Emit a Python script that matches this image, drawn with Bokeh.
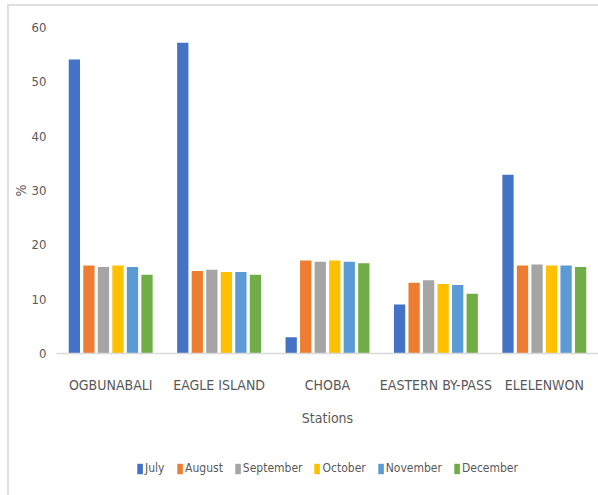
from bokeh.plotting import figure
from bokeh.layouts import column
from bokeh.models import (FactorRange, Range1d, Legend, LegendItem, FixedTicker,
                          ColumnDataSource)
from bokeh.transform import dodge
from bokeh.embed import file_html
from bokeh.resources import INLINE

# Monthly percentages per sampling station
stations = ["OGBUNABALI", "EAGLE ISLAND", "CHOBA", "EASTERN BY-PASS", "ELELENWON"]
months = ["July", "August", "September", "October", "November", "December"]
july = [54.1, 57.2, 3.0, 9.0, 32.9]
august = [16.2, 15.2, 17.1, 13.0, 16.2]
september = [15.9, 15.4, 16.9, 13.5, 16.4]
october = [16.2, 15.0, 17.1, 12.8, 16.2]
november = [15.9, 15.0, 16.9, 12.6, 16.2]
december = [14.5, 14.5, 16.6, 11.0, 15.9]
y_ticks = [0, 10, 20, 30, 40, 50, 60]

series = [july, august, september, october, november, december]
colors = ["#4472C4", "#ED7D31", "#A5A5A5", "#FFC000", "#5B9BD5", "#70AD47"]

FONT = "Liberation Sans Narrow, DejaVu Sans Condensed, Roboto"
TEXT = "#595959"

src = ColumnDataSource(dict(station=stations, **{m: v for m, v in zip(months, series)}))
step = 0.134
width = 0.104

p = figure(
    x_range=FactorRange(factors=stations, range_padding=0),
    y_range=Range1d(0, 60),
    width=589, height=435,
    output_backend="svg", toolbar_location=None,
    min_border_left=46, min_border_right=0, min_border_top=21, min_border_bottom=88,
    outline_line_color=None,
)

for i, (m, c) in enumerate(zip(months, colors)):
    p.vbar(x=dodge("station", (i - 2.5) * step, range=p.x_range), top=m, width=width,
           source=src, fill_color=c, line_color=None)

p.xgrid.grid_line_color = None
p.ygrid.grid_line_color = None

p.yaxis.ticker = FixedTicker(ticks=y_ticks)
p.yaxis.axis_line_color = None
p.yaxis.major_tick_line_color = None
p.yaxis.minor_tick_line_color = None
p.yaxis.major_label_standoff = 4
p.yaxis.axis_label = "%"
p.yaxis.axis_label_standoff = 0

p.xaxis.axis_line_color = "#d9d9d9"
p.xaxis.axis_line_width = 1.5
p.xaxis.major_tick_line_color = None
p.xaxis.minor_tick_line_color = None
p.xaxis.major_label_standoff = 17
p.xaxis.axis_label = "Stations"
p.xaxis.axis_label_standoff = 14

for ax in (p.xaxis[0], p.yaxis[0]):
    ax.major_label_text_font = FONT
    ax.major_label_text_font_size = "14px"
    ax.major_label_text_color = TEXT
    ax.axis_label_text_font = FONT
    ax.axis_label_text_font_size = "14px"
    ax.axis_label_text_font_style = "normal"
    ax.axis_label_text_color = TEXT
p.yaxis.major_label_text_font_size = "13px"

# legend strip under the chart: same series, swatches only
lg = figure(
    x_range=p.x_range, y_range=Range1d(100, 101),
    width=589, height=54,
    output_backend="svg", toolbar_location=None,
    x_axis_location=None, y_axis_location=None,
    min_border=0, outline_line_color=None,
)
lg.xgrid.grid_line_color = None
lg.ygrid.grid_line_color = None
items = []
for i, (m, c) in enumerate(zip(months, colors)):
    r = lg.vbar(x=dodge("station", (i - 2.5) * step, range=lg.x_range), top=m, width=width,
                source=src, fill_color=c, line_color=None)
    items.append(LegendItem(label=m, renderers=[r]))

legend = Legend(items=items, orientation="horizontal", location="center",
                glyph_width=7, glyph_height=13, label_standoff=2, spacing=11,
                label_text_font=FONT, label_text_font_size="12px", label_text_color=TEXT,
                border_line_color=None, background_fill_alpha=0, padding=0, margin=0)
lg.add_layout(legend, "center")

# chart-area border on the top and left edges
layout = column(p, lg, spacing=0, margin=(4, 0, 0, 7),
                styles={"border-top": "2px solid #e0e0e0", "border-left": "2px solid #e0e0e0"})

open("out.html", "w").write(file_html(layout, INLINE))
